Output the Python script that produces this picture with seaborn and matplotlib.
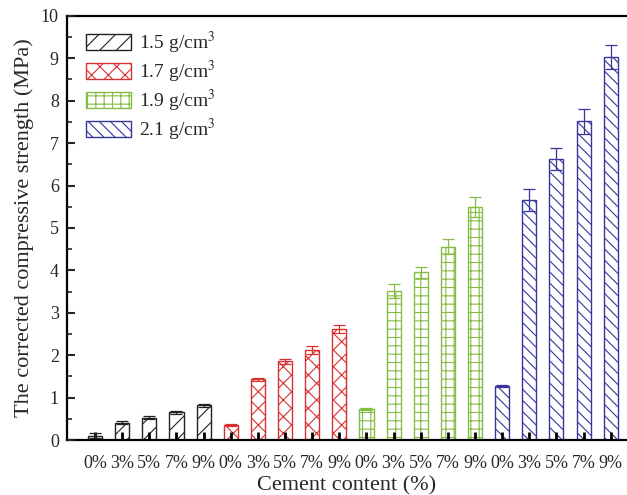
import numpy as np
import pandas as pd
import matplotlib
matplotlib.use("Agg")
import matplotlib.pyplot as plt
from matplotlib.patches import Patch
from matplotlib.ticker import MultipleLocator
import seaborn as sns

densities = ["1.5 g/cm$^3$", "1.7 g/cm$^3$", "1.9 g/cm$^3$", "2.1 g/cm$^3$"]
cement = ["0%", "3%", "5%", "7%", "9%"]

strength_15 = [0.10, 0.41, 0.53, 0.65, 0.82]
strength_17 = [0.35, 1.43, 1.86, 2.12, 2.62]
strength_19 = [0.73, 3.51, 3.95, 4.56, 5.49]
strength_21 = [1.27, 5.66, 6.62, 7.51, 9.03]

err_15 = [0.06, 0.03, 0.03, 0.04, 0.04]
err_17 = [0.02, 0.03, 0.06, 0.10, 0.09]
err_19 = [0.02, 0.16, 0.13, 0.18, 0.23]
err_21 = [0.02, 0.26, 0.26, 0.30, 0.28]

colors = ["#222222", "#d83030", "#84bc44", "#36369c"]
hatches = ["//", "xx", "++", "\\\\\\"]

all_vals = [strength_15, strength_17, strength_19, strength_21]
all_errs = [err_15, err_17, err_19, err_21]

rows = []
for d, vals, errs in zip(densities, all_vals, all_errs):
    for c, v, e in zip(cement, vals, errs):
        rows.append({"group": d + " " + c, "density": d, "cement": c,
                     "strength": v, "err": e})
df = pd.DataFrame(rows)

sns.set_style("ticks")
plt.rcParams["font.family"] = ["Liberation Serif", "DejaVu Serif"]
plt.rcParams["mathtext.fontset"] = "stix"
plt.rcParams["hatch.linewidth"] = 0.8

fig = plt.figure(figsize=(6.27, 4.95), dpi=100)
ax = fig.add_axes([0.107, 0.111, 0.893, 0.857])

sns.barplot(data=df, x="group", y="strength", hue="density",
            order=df["group"].tolist(), hue_order=densities,
            palette=colors, dodge=False, width=0.52, legend=False, ax=ax)

# restyle bars: white fill, coloured edges and hatches
for i, bar in enumerate(ax.patches):
    k = i // 5
    bar.set_facecolor("white")
    bar.set_edgecolor(colors[k])
    bar.set_hatch(hatches[k])
    bar.set_linewidth(1.0)
    x = bar.get_x() + bar.get_width() / 2
    ax.errorbar(x, df["strength"][i], yerr=df["err"][i], color=colors[k],
                capsize=4, elinewidth=0.9, capthick=0.9, fmt="none", zorder=3)

ax.set_axisbelow(False)
ax.set_xlim(-1.03, 19.6)
ax.set_ylim(0, 10)
ax.set_xticks(range(20))
ax.set_xticklabels(df["cement"].tolist())
ax.yaxis.set_major_locator(MultipleLocator(1))
ax.yaxis.set_minor_locator(MultipleLocator(0.5))

ax.tick_params(axis="x", direction="in", length=6, width=2, color="black",
               labelsize=13, pad=11)
ax.tick_params(axis="y", which="major", direction="in", length=6, width=1.5,
               labelsize=13, pad=6)
ax.tick_params(axis="y", which="minor", direction="in", length=3.5, width=1.2)

for side in ["left", "bottom", "top"]:
    ax.spines[side].set_linewidth(1.6)
    ax.spines[side].set_color("black")
ax.spines["right"].set_visible(False)

ax.set_xlabel("Cement content (%)", fontsize=16, labelpad=3)
ax.set_ylabel("The corrected compressive strength (MPa)", fontsize=16, labelpad=5)

handles = [Patch(facecolor="white", edgecolor=c, hatch=h, label=d)
           for c, h, d in zip(colors, hatches, densities)]
ax.legend(handles=handles, loc="upper left", frameon=False, fontsize=14,
          handlelength=2.3, handleheight=0.9, labelspacing=0.15,
          handletextpad=0.4, borderaxespad=0.3, bbox_to_anchor=(0.01, 1.0))

fig.savefig("out.png", dpi=100)
